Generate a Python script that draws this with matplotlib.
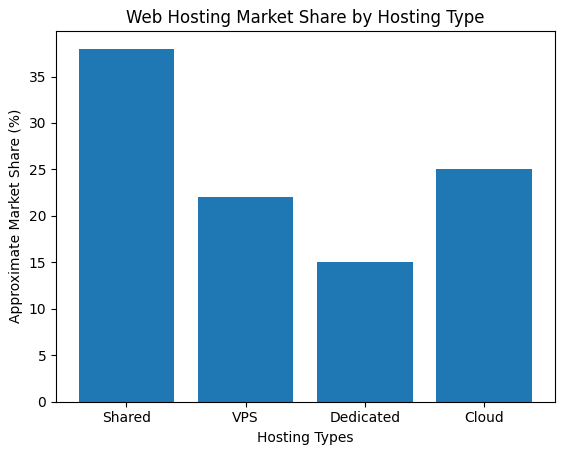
import matplotlib
matplotlib.use('Agg')
import matplotlib.pyplot as plt

# hosting types and their approximate share
hosting_types = ['Shared', 'VPS', 'Dedicated', 'Cloud']
market_share = [38, 22, 15, 25]

fig = plt.figure(figsize=(5.62, 4.55), dpi=100)
ax = fig.add_axes([56 / 562, 1 - 401.5 / 455, (554.5 - 56) / 562, (401.5 - 31) / 455])

ax.bar(hosting_types, market_share, color='#1f77b4')
ax.set_xlabel('Hosting Types')
ax.set_ylabel('Approximate Market Share (%)')
ax.set_title('Web Hosting Market Share by Hosting Type')

fig.savefig('out.png', dpi=100)
